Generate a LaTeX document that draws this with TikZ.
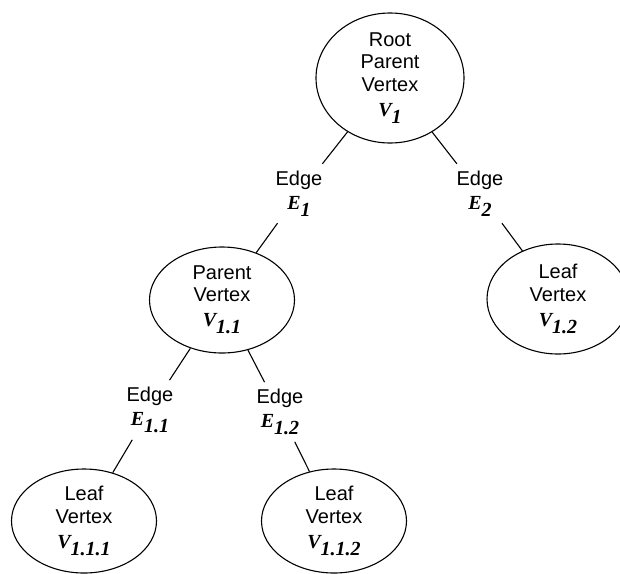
\documentclass[tikz,border=0pt]{standalone}
\usepackage{fontspec}
\setmainfont{Liberation Sans}
\newfontfamily\tmsfont{Liberation Serif}
\usetikzlibrary{shapes.geometric}
\newcommand\vsym[2]{{\tmsfont\bfseries\itshape #1\raisebox{-7pt}{#2}}}
\begin{document}
\begin{tikzpicture}[x=1pt,y=-1pt,
  vert/.style={ellipse, draw, line width=1.1pt, inner sep=0pt, align=center,
    font=\fontsize{20}{22.5}\selectfont, minimum width=145pt, minimum height=106pt},
  edgelbl/.style={inner sep=7pt, align=center, font=\fontsize{20}{22.5}\selectfont},
  conn/.style={line width=1.1pt}]
\useasboundingbox (0,0) rectangle (620,573);
\node[vert, minimum width=148pt, minimum height=130pt] (root) at (390,78)
  {Root\\Parent\\Vertex\\[2.5pt]\vsym{V}{1}};
\node[vert] (p11) at (222,300) {Parent\\Vertex\\[2.5pt]\vsym{V}{1.1}};
\node[vert, minimum width=142pt, minimum height=110pt] (v12) at (558,299)
  {Leaf\\Vertex\\[2.5pt]\vsym{V}{1.2}};
\node[vert, minimum height=104pt] (v111) at (84,521) {Leaf\\Vertex\\[2.5pt]\vsym{V}{1.1.1}};
\node[vert, minimum height=104pt] (v112) at (334,521) {Leaf\\Vertex\\[2.5pt]\vsym{V}{1.1.2}};
\node[edgelbl] (e1) at (299,193.5) {Edge\\[1pt]\vsym{E}{1}};
\node[edgelbl] (e2) at (480,193.5) {Edge\\[1pt]\vsym{E}{2}};
\node[edgelbl] (e11) at (150,410) {Edge\\[1pt]\vsym{E}{1.1}};
\node[edgelbl] (e12) at (280,412) {Edge\\[1pt]\vsym{E}{1.2}};
\draw[conn] (root) -- (e1) (e1) -- (p11);
\draw[conn] (root) -- (e2) (e2) -- (v12);
\draw[conn] (p11) -- (e11) (e11) -- (v111);
\draw[conn] (p11) -- (e12) (e12) -- (v112);
\end{tikzpicture}
\end{document}
